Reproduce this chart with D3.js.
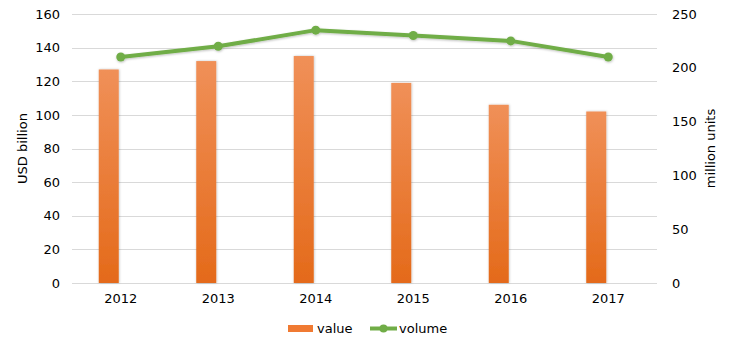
<!DOCTYPE html>
<html>
<head>
<meta charset="utf-8">
<script src="https://cdn.jsdelivr.net/npm/d3@7"></script>
<style>
  html, body { margin: 0; padding: 0; background: #fff; }
  svg text { font-family: "DejaVu Sans", Verdana, sans-serif; fill: #000; }
</style>
</head>
<body>
<svg id="chart" width="732" height="347"></svg>
<script>
// Market data: value in USD billion (bars) and volume in million units (line)
const years = ["2012", "2013", "2014", "2015", "2016", "2017"];
const valueUSD = [127, 132, 135, 119, 106, 102];
const volumeUnits = [210, 220, 235, 230, 225, 210];
const leftTicks = [0, 20, 40, 60, 80, 100, 120, 140, 160];
const rightTicks = [0, 50, 100, 150, 200, 250];

const svg = d3.select("#chart");
const plot = { left: 72, right: 657, top: 14, bottom: 283 };

const x = d3.scaleBand().domain(years).range([plot.left, plot.right]);
const yL = d3.scaleLinear().domain([0, 160]).range([plot.bottom, plot.top]);
const yR = d3.scaleLinear().domain([0, 250]).range([plot.bottom, plot.top]);

// bar fill gradient
const defs = svg.append("defs");
const grad = defs.append("linearGradient").attr("id", "barGrad")
  .attr("x1", 0).attr("y1", 0).attr("x2", 0).attr("y2", 1);
grad.append("stop").attr("offset", "0%").attr("stop-color", "#F09058");
grad.append("stop").attr("offset", "100%").attr("stop-color", "#E46A1A");
const shadow = defs.append("filter").attr("id", "barShadow")
  .attr("x", "-30%").attr("y", "-5%").attr("width", "160%").attr("height", "110%");
shadow.append("feDropShadow").attr("dx", 0.5).attr("dy", 0).attr("stdDeviation", 1.2)
  .attr("flood-color", "#000").attr("flood-opacity", 0.25);
const lineShadow = defs.append("filter").attr("id", "lineShadow")
  .attr("x", "-10%").attr("y", "-50%").attr("width", "120%").attr("height", "200%");
lineShadow.append("feDropShadow").attr("dx", 0.5).attr("dy", 1).attr("stdDeviation", 1)
  .attr("flood-color", "#000").attr("flood-opacity", 0.25);

// gridlines
svg.append("g").selectAll("line").data(leftTicks).join("line")
  .attr("x1", plot.left).attr("x2", plot.right)
  .attr("y1", d => Math.round(yL(d)) + 0.5).attr("y2", d => Math.round(yL(d)) + 0.5)
  .attr("stroke", "#D9D9D9").attr("stroke-width", 1);

// left axis labels
svg.append("g").selectAll("text").data(leftTicks).join("text")
  .attr("x", 60).attr("y", d => yL(d)).attr("dy", "0.36em")
  .attr("text-anchor", "end").attr("font-size", 13).text(d => d);

// right axis labels
svg.append("g").selectAll("text").data(rightTicks).join("text")
  .attr("x", 672).attr("y", d => yR(d)).attr("dy", "0.36em")
  .attr("text-anchor", "start").attr("font-size", 13).text(d => d);

// category labels
svg.append("g").selectAll("text").data(years).join("text")
  .attr("x", d => x(d) + x.bandwidth() / 2).attr("y", 303)
  .attr("text-anchor", "middle").attr("font-size", 13).text(d => d);

// axis titles
svg.append("text").attr("transform", `translate(27,${(plot.top + plot.bottom) / 2}) rotate(-90)`)
  .attr("text-anchor", "middle").attr("font-size", 13).text("USD billion");
svg.append("text").attr("transform", `translate(715,${(plot.top + plot.bottom) / 2}) rotate(-90)`)
  .attr("text-anchor", "middle").attr("font-size", 13).text("million units");

// bars (sit just left of each category centre)
const barW = 20;
svg.append("g").selectAll("rect").data(years).join("rect")
  .attr("x", d => x(d) + x.bandwidth() / 2 - barW - 2)
  .attr("width", barW)
  .attr("y", (d, i) => yL(valueUSD[i]))
  .attr("height", (d, i) => yL(0) - yL(valueUSD[i]))
  .attr("fill", "url(#barGrad)")
  .attr("filter", "url(#barShadow)");

// volume line
const pts = years.map((d, i) => [x(d) + x.bandwidth() / 2, yR(volumeUnits[i])]);
const lineG = svg.append("g").attr("filter", "url(#lineShadow)");
lineG.append("path").attr("d", d3.line()(pts))
  .attr("fill", "none").attr("stroke", "#70AD47").attr("stroke-width", 4)
  .attr("stroke-linejoin", "round").attr("stroke-linecap", "round");
lineG.selectAll("circle").data(pts).join("circle")
  .attr("cx", d => d[0]).attr("cy", d => d[1]).attr("r", 4.5)
  .attr("fill", "#70AD47");

// legend
const leg = svg.append("g");
leg.append("rect").attr("x", 288).attr("y", 325).attr("width", 25).attr("height", 7)
  .attr("fill", "#F07A32");
leg.append("text").attr("x", 317).attr("y", 333).attr("font-size", 13).text("value");
leg.append("line").attr("x1", 370).attr("x2", 397).attr("y1", 328.5).attr("y2", 328.5)
  .attr("stroke", "#70AD47").attr("stroke-width", 4);
leg.append("circle").attr("cx", 383.5).attr("cy", 328.5).attr("r", 4).attr("fill", "#70AD47");
leg.append("text").attr("x", 399).attr("y", 333).attr("font-size", 13).text("volume");
</script>
</body>
</html>
